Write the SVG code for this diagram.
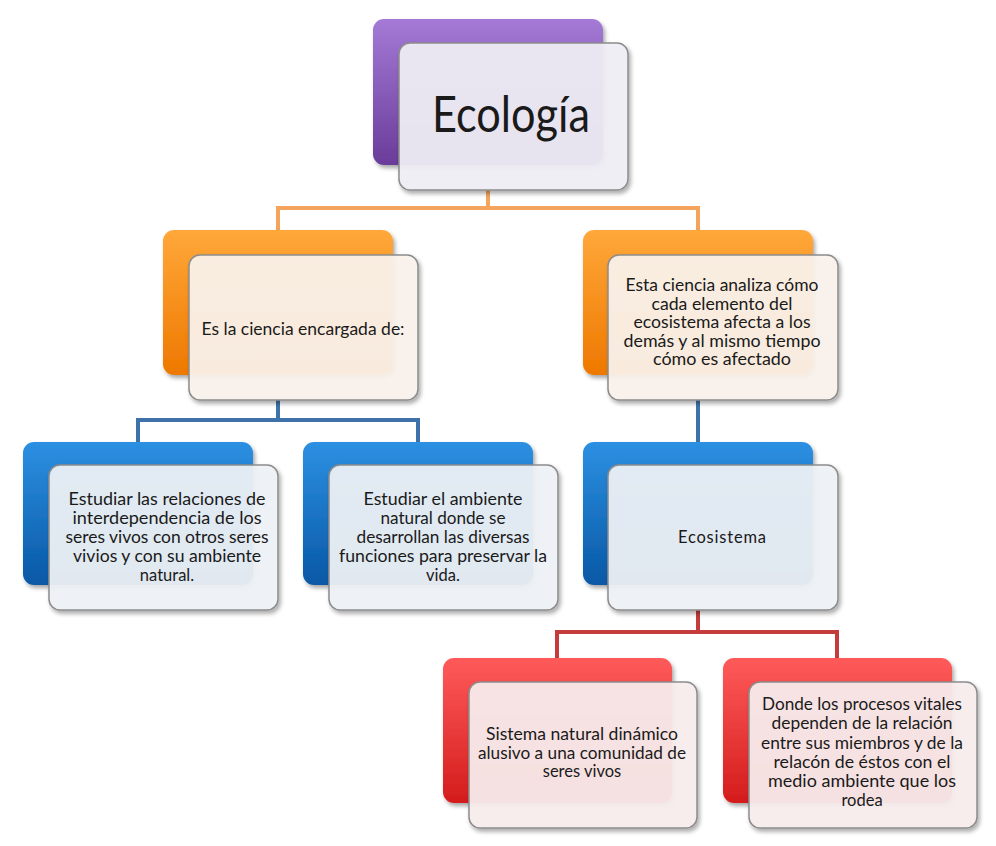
<svg xmlns="http://www.w3.org/2000/svg" width="996" height="846" viewBox="0 0 996 846">
<defs>
<linearGradient id="gP" x1="0" y1="0" x2="0" y2="1"><stop offset="0" stop-color="#a47ad6"/><stop offset="1" stop-color="#6a3c9a"/></linearGradient>
<linearGradient id="gO" x1="0" y1="0" x2="0" y2="1"><stop offset="0" stop-color="#ffa83a"/><stop offset="1" stop-color="#ee7800"/></linearGradient>
<linearGradient id="gB" x1="0" y1="0" x2="0" y2="1"><stop offset="0" stop-color="#2d90e2"/><stop offset="1" stop-color="#0858a6"/></linearGradient>
<linearGradient id="gR" x1="0" y1="0" x2="0" y2="1"><stop offset="0" stop-color="#ff5a5a"/><stop offset="1" stop-color="#d41c1c"/></linearGradient>
<filter id="sh" x="-10%" y="-10%" width="125%" height="130%"><feDropShadow dx="2" dy="3" stdDeviation="2" flood-color="#000" flood-opacity="0.35"/></filter>
</defs>
<style>
.back{filter:url(#sh);}
.card{stroke:#8c8c8c;stroke-width:1.5;filter:url(#sh);}
.cP{fill:#f1f0f6;fill-opacity:0.92}
.cO{fill:#fcf4ee;fill-opacity:0.92}
.cB{fill:#f0f3f7;fill-opacity:0.92}
.cR{fill:#faefef;fill-opacity:0.92}
text{font-family:Lato,"Open Sans","Liberation Sans",sans-serif;fill:#1a1a1a;text-anchor:middle;font-size:16.5px}
.big{font-size:50px}
.conn{fill:none;stroke-width:4}
</style>
<rect width="996" height="846" fill="#ffffff"/>
<g id="connectors">
<path class="conn" stroke="#f4a45c" d="M488 190 V208 M278 230 V208 H698 V230"/>
<path class="conn" stroke="#3f72aa" d="M278 400 V420 M138 442 V420 H418 V442"/>
<path class="conn" stroke="#3f72aa" d="M698 400 V442"/>
<path class="conn" stroke="#c43c3c" d="M698 610 V632 M557 658 V632 H837 V658"/>
</g>
<g id="n-ecologia">
<rect class="back" x="373" y="19" width="230" height="146" rx="11" fill="url(#gP)"/>
<rect class="card cP" x="399" y="43" width="229" height="147" rx="11"/>
<text class="big" x="511" y="132" textLength="158" lengthAdjust="spacingAndGlyphs">Ecología</text>
</g>
<g id="n-ciencia">
<rect class="back" x="163" y="230" width="230" height="145" rx="11" fill="url(#gO)"/>
<rect class="card cO" x="189" y="255" width="229" height="145" rx="11"/>
<text x="303" y="335" textLength="203" lengthAdjust="spacingAndGlyphs">Es la ciencia encargada de:</text>
</g>
<g id="n-analiza">
<rect class="back" x="583" y="230" width="230" height="145" rx="11" fill="url(#gO)"/>
<rect class="card cO" x="608" y="255" width="230" height="145" rx="11"/>
<text x="722" y="291" textLength="193" lengthAdjust="spacingAndGlyphs">Esta ciencia analiza cómo</text>
<text x="722" y="309.5" textLength="141" lengthAdjust="spacingAndGlyphs">cada elemento del</text>
<text x="722" y="328" textLength="177" lengthAdjust="spacingAndGlyphs">ecosistema afecta a los</text>
<text x="722" y="346.5" textLength="197" lengthAdjust="spacingAndGlyphs">demás y al mismo tiempo</text>
<text x="722" y="365" textLength="138" lengthAdjust="spacingAndGlyphs">cómo es afectado</text>
</g>
<g id="n-relaciones">
<rect class="back" x="23" y="442" width="230" height="143" rx="11" fill="url(#gB)"/>
<rect class="card cB" x="49" y="465" width="229" height="145" rx="11"/>
<text x="167" y="505" textLength="197" lengthAdjust="spacingAndGlyphs">Estudiar las relaciones de</text>
<text x="167" y="524" textLength="189" lengthAdjust="spacingAndGlyphs">interdependencia de los</text>
<text x="167" y="543" textLength="203" lengthAdjust="spacingAndGlyphs">seres vivos con otros seres</text>
<text x="167" y="562" textLength="188" lengthAdjust="spacingAndGlyphs">vivios y con su ambiente</text>
<text x="167" y="581">natural.</text>
</g>
<g id="n-ambiente">
<rect class="back" x="303" y="442" width="230" height="143" rx="11" fill="url(#gB)"/>
<rect class="card cB" x="329" y="465" width="229" height="145" rx="11"/>
<text x="443" y="505" textLength="159" lengthAdjust="spacingAndGlyphs">Estudiar el ambiente</text>
<text x="443" y="524" textLength="125" lengthAdjust="spacingAndGlyphs">natural donde se</text>
<text x="443" y="543" textLength="173" lengthAdjust="spacingAndGlyphs">desarrollan las diversas</text>
<text x="443" y="562" textLength="208" lengthAdjust="spacingAndGlyphs">funciones para preservar la</text>
<text x="443" y="581">vida.</text>
</g>
<g id="n-ecosistema">
<rect class="back" x="583" y="442" width="230" height="143" rx="11" fill="url(#gB)"/>
<rect class="card cB" x="608" y="465" width="230" height="145" rx="11"/>
<text x="722" y="543" textLength="88" lengthAdjust="spacing">Ecosistema</text>
</g>
<g id="n-sistema">
<rect class="back" x="443" y="658" width="229" height="145" rx="11" fill="url(#gR)"/>
<rect class="card cR" x="469" y="682" width="228" height="146" rx="11"/>
<text x="582" y="740" textLength="192" lengthAdjust="spacingAndGlyphs">Sistema natural dinámico</text>
<text x="582" y="758.5" textLength="208" lengthAdjust="spacingAndGlyphs">alusivo a una comunidad de</text>
<text x="582" y="777">seres vivos</text>
</g>
<g id="n-procesos">
<rect class="back" x="723" y="658" width="229" height="145" rx="11" fill="url(#gR)"/>
<rect class="card cR" x="749" y="682" width="228" height="146" rx="11"/>
<text x="862" y="710" textLength="200" lengthAdjust="spacingAndGlyphs">Donde los procesos vitales</text>
<text x="862" y="729" textLength="181" lengthAdjust="spacingAndGlyphs">dependen de la relación</text>
<text x="862" y="748.5" textLength="202" lengthAdjust="spacingAndGlyphs">entre sus miembros y de la</text>
<text x="862" y="768" textLength="177" lengthAdjust="spacingAndGlyphs">relacón de éstos con el</text>
<text x="862" y="787" textLength="188" lengthAdjust="spacingAndGlyphs">medio ambiente que los</text>
<text x="862" y="806">rodea</text>
</g>
</svg>
